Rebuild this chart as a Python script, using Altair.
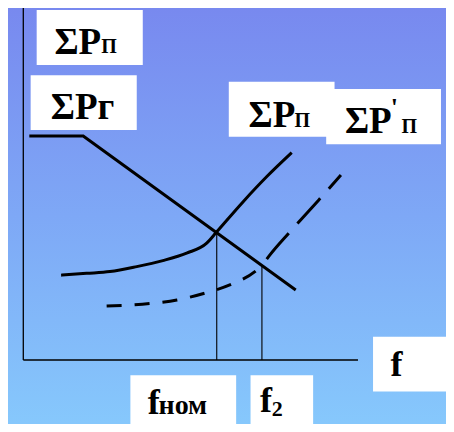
import altair as alt
import pandas as pd

# ---- data (in axis units: f along x, P along y) ----
pg_f = [1.8, 17.9, 81.4]                      # ΣPг (generation)
pg_P = [63.1, 63.1, 19.7]
pp_f = [11.3, 18.9, 25.9, 33.9, 41.7, 48.8, 54.8, 57.8, 65.7, 72.7, 80.2]   # ΣPп (load)
pp_P = [23.9, 24.4, 24.9, 26.3, 28.0, 30.1, 32.9, 36.1, 44.6, 51.6, 58.4]
pd_f = [24.9, 37.9, 45.9, 54.5, 62.4, 69.5, 71.3, 73.7, 79.4, 88.3, 94.9]   # ΣP'п (load, dashed)
pd_P = [15.2, 15.9, 16.9, 18.9, 21.4, 25.1, 26.6, 29.6, 35.8, 45.1, 52.1]
f_marks = [57.8, 71.3]      # f_ном, f2
f_marks_P = [36.1, 26.6]

# ---- layout (chart frame) ----
W, H = 438, 416
XDOM = [-4.57, 126.3]
YDOM = [-18.03, 99.15]
FONT = "Liberation Serif"

xs = alt.Scale(domain=XDOM, nice=False, zero=False)
ys = alt.Scale(domain=YDOM, nice=False, zero=False)

def X(field="f"):
    return alt.X(f"{field}:Q", scale=xs, axis=None)

def Y(field="P"):
    return alt.Y(f"{field}:Q", scale=ys, axis=None)

# background gradient
bg = alt.Chart(pd.DataFrame({"f": [XDOM[0]], "f2": [XDOM[1]], "P": [YDOM[1]], "P2": [YDOM[0]]})).mark_rect(
    color=alt.LinearGradient(
        gradient="linear", x1=0, x2=0, y1=0, y2=1,
        stops=[alt.GradientStop(color="#7889ef", offset=0),
               alt.GradientStop(color="#7ea8f6", offset=0.5),
               alt.GradientStop(color="#86c8fc", offset=1)],
    )).encode(x=X(), x2="f2:Q", y=Y(), y2="P2:Q")

# axes
axes_df = pd.DataFrame({
    "f": [0, 0], "P": [0, 0], "f2": [0, 100], "P2": [99.5, 0],
})
axes = alt.Chart(axes_df).mark_rule(color="black", strokeWidth=1.3).encode(
    x=X(), y=Y(), x2="f2:Q", y2="P2:Q")

# label boxes
boxes_df = pd.DataFrame({
    "f": [4.0, 2.2, 61.4, 90.5, 104.5, 32.0, 67.9],
    "f2": [35.7, 33.9, 93.0, 124.8, 127.1, 63.6, 86.6],
    "P": [98.6, 80.2, 78.4, 76.3, 6.56, -4.3, -4.3],
    "P2": [83.1, 64.8, 62.9, 60.8, -8.9, -19.9, -19.9],
    "order": [1, 2, 3, 4, 5, 6, 7],
})
boxes = alt.Chart(boxes_df).mark_rect(color="white", clip=True).encode(
    x=X(), x2="f2:Q", y=Y(), y2="P2:Q", order="order:Q")

def texts(df, size):
    return alt.Chart(df).mark_text(
        font=FONT, fontWeight="bold", fontSize=size, align="left",
        baseline="alphabetic", color="black").encode(
        x=X(), y=Y(), text="t:N")

big = texts(pd.DataFrame({
    "t": ["ΣP", "ΣPг", "ΣP", "ΣP"],
    "f": [9.3, 8.2, 67.3, 96.1],
    "P": [86.3, 67.9, 65.7, 63.9],
}), 37)
sub = texts(pd.DataFrame({
    "t": ["П", "П", "П"],
    "f": [23.3, 81.0, 113.0],
    "P": [86.4, 65.7, 63.9],
}), 20)
prime = texts(pd.DataFrame({"t": ["'"], "f": [109.8], "P": [68.7]}), 26)
fbig = texts(pd.DataFrame({
    "t": ["f", "f", "f"],
    "f": [109.7, 37.2, 70.7],
    "P": [-4.5, -15.2, -14.6],
}), 36)
fsub = texts(pd.DataFrame({"t": ["ном"], "f": [40.4], "P": [-15.2]}), 28)
fsub2 = texts(pd.DataFrame({"t": ["2"], "f": [74.2], "P": [-15.9]}), 22)

# curves
gen = alt.Chart(pd.DataFrame({"f": pg_f, "P": pg_P})).mark_line(
    color="black", strokeWidth=3).encode(x=X(), y=Y())
load = alt.Chart(pd.DataFrame({"f": pp_f, "P": pp_P})).mark_line(
    color="black", strokeWidth=3, interpolate="monotone").encode(x=X(), y=Y())

dash_df = pd.DataFrame({"f": pd_f, "P": pd_P})
dash_lo = alt.Chart(dash_df[dash_df.f <= f_marks[1]]).mark_line(
    color="black", strokeWidth=3, interpolate="monotone",
    strokeDash=[15, 13]).encode(x=X(), y=Y())
dash_hi = alt.Chart(dash_df[dash_df.f >= f_marks[1]]).mark_line(
    color="black", strokeWidth=3, interpolate="monotone",
    strokeDash=[34, 13], strokeDashOffset=39).encode(x=X(), y=Y())

vlines = alt.Chart(pd.DataFrame({"f": f_marks, "P": f_marks_P, "P0": [0, 0]})).mark_rule(
    color="black", strokeWidth=1.1).encode(x=X(), y=Y(), y2="P0:Q")

chart = alt.layer(
    bg, axes, vlines, gen, load, dash_lo, dash_hi, boxes,
    big, sub, prime, fbig, fsub, fsub2,
).properties(
    width=W, height=H, padding=0,
    autosize=alt.AutoSizeParams(type="none"),
).configure_view(
    stroke=None,
)

chart.save("out.html", embed_options={"renderer": "svg", "actions": False})
